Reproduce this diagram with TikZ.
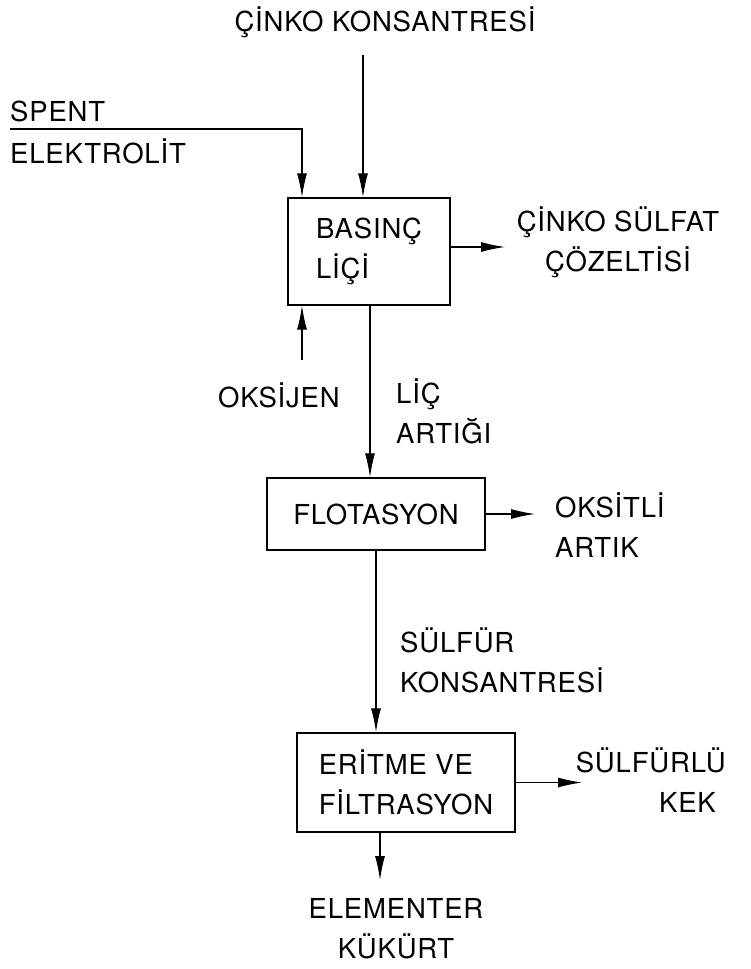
\documentclass[tikz,border=0pt]{standalone}
\usepackage{fontspec}
\setmainfont{TeX Gyre Heros}[LetterSpace=3]
\usetikzlibrary{arrows.meta}
\begin{document}
\begin{tikzpicture}[x=1pt,y=-1pt,
  every node/.style={font=\fontsize{27.5}{40}\selectfont, inner sep=0pt},
  procbox/.style={draw, line width=1.3pt, align=left},
  flow/.style={line width=1.2pt, -{Latex[length=24pt,width=10pt]}},
  lbl/.style={align=left}]
\useasboundingbox (0,0) rectangle (751,969);
% boxes
\node[procbox, minimum width=162pt, minimum height=107pt] (b1) at (369,251.5) {BASINÇ\\LİÇİ};
\node[procbox, minimum width=218pt, minimum height=72pt] (b2) at (376,514) {FLOTASYON};
\node[procbox, minimum width=218pt, minimum height=99pt] (b3) at (406,782.5) {ERİTME VE\\FİLTRASYON};
% labels
\node (tin) at (385,22) {ÇİNKO KONSANTRESİ};
\node[anchor=west] (sp) at (10,111) {SPENT};
\node[anchor=west] (el) at (10,151) {ELEKTROLİT};
\node[align=center] (zs) at (618,242) {ÇİNKO SÜLFAT\\ÇÖZELTİSİ};
\node (ox) at (279,395) {OKSİJEN};
\node[lbl, anchor=west] (la) at (396,411) {LİÇ\\ARTIĞI};
\node[lbl, anchor=west] (oa) at (555,525) {OKSİTLİ\\ARTIK};
\node[lbl, anchor=west] (sk) at (400,660) {SÜLFÜR\\KONSANTRESİ};
\node[align=right, anchor=east] (kek) at (726,780) {SÜLFÜRLÜ\\KEK\hspace*{10pt}};
\node[align=center] (ek) at (396,929) {ELEMENTER\\KÜKÜRT};
% coordinates
\coordinate (c1) at (363,55);
\coordinate (s0) at (10,129);
\coordinate (s1) at (302,129);
\coordinate (r1) at (505,247);
\coordinate (o1) at (302,360);
\coordinate (m1) at (370,0);
\coordinate (m2) at (376,0);
\coordinate (r2) at (535,514);
\coordinate (r3) at (582,782.5);
\coordinate (d3) at (380,880);
% connectors
\draw[flow] (c1) -- (c1 |- b1.north);
\draw[flow] (s0) -- (s1) -- (s1 |- b1.north);
\draw[flow] (r1 -| b1.east) -- (r1);
\draw[flow] (o1) -- (o1 |- b1.south);
\draw[flow] (m1 |- b1.south) -- (m1 |- b2.north);
\draw[flow] (m2 |- b2.south) -- (m2 |- b3.north);
\draw[flow] (b2.east) -- (r2);
\draw[flow] (b3.east) -- (r3);
\draw[flow] (d3 |- b3.south) -- (d3);
\end{tikzpicture}
\end{document}
